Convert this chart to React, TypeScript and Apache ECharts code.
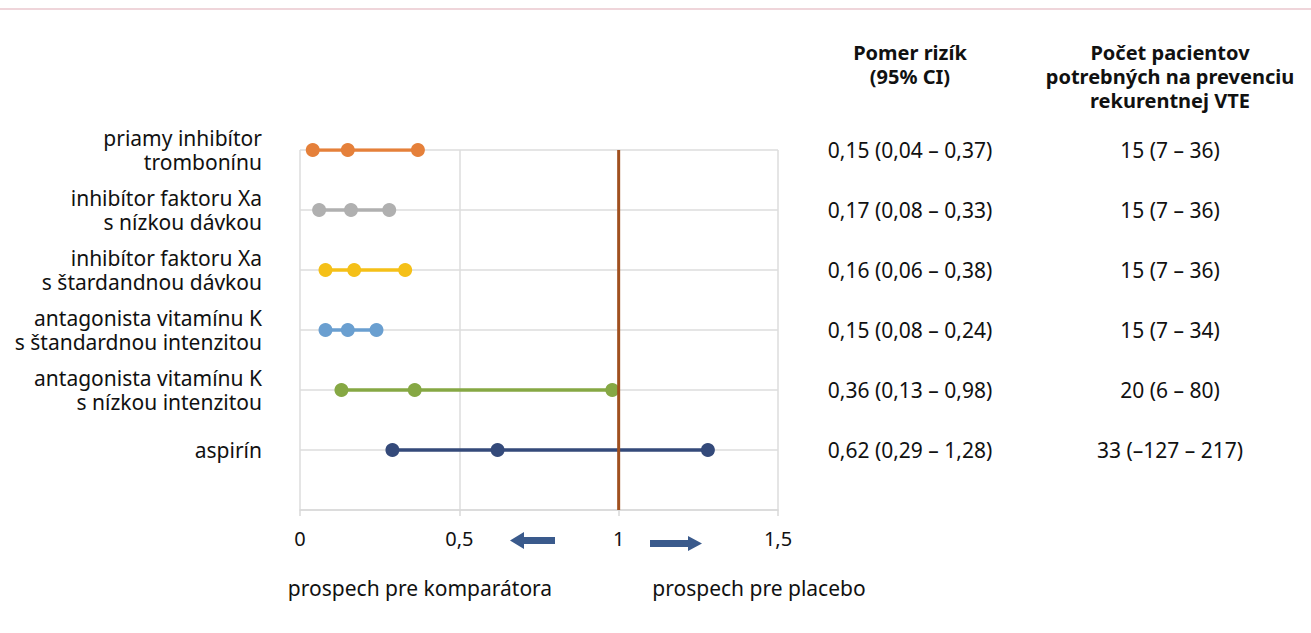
import React, { useEffect, useRef } from "react";
import * as echarts from "echarts";

const rowLabels = [
  "priamy inhibítor\ntrombonínu",
  "inhibítor faktoru Xa\ns nízkou dávkou",
  "inhibítor faktoru Xa\ns štardandnou dávkou",
  "antagonista vitamínu K\ns štandardnou intenzitou",
  "antagonista vitamínu K\ns nízkou intenzitou",
  "aspirín",
];
const lowerCI = [0.04, 0.06, 0.08, 0.08, 0.13, 0.29];
const estimate = [0.15, 0.16, 0.17, 0.15, 0.36, 0.62];
const upperCI = [0.37, 0.28, 0.33, 0.24, 0.98, 1.28];
const rowPositions = [6, 5, 4, 3, 2, 1];
const colors = ["#E5803A", "#B0B0B0", "#F5C018", "#6A9FD0", "#86A844", "#344A7A"];
const riskText = [
  "0,15 (0,04 – 0,37)",
  "0,17 (0,08 – 0,33)",
  "0,16 (0,06 – 0,38)",
  "0,15 (0,08 – 0,24)",
  "0,36 (0,13 – 0,98)",
  "0,62 (0,29 – 1,28)",
];
const nntText = [
  "15 (7 – 36)",
  "15 (7 – 36)",
  "15 (7 – 36)",
  "15 (7 – 34)",
  "20 (6 – 80)",
  "33 (–127 – 217)",
];
const riskHeader = "Pomer rizík\n(95% CI)";
const nntHeader = "Počet pacientov\npotrebných na prevenciu\nrekurentnej VTE";
const leftNote = "prospech pre komparátora";
const rightNote = "prospech pre placebo";
const xTicks = { min: 0, max: 1.5, interval: 0.5 };
const referenceValue = 1;

const FONT = "'Noto Sans', sans-serif";
const FS = 21;

export default function App() {
  const ref = useRef<HTMLDivElement>(null);
  useEffect(() => {
    if (!ref.current) return;
    const chart = echarts.init(ref.current, undefined, { renderer: "svg" });
    const gridLeft = 300;
    const gridRight = 778;
    const gridTop = 150;
    const gridBottom = 510;

    const series: any[] = rowLabels.map((name, i) => ({
      type: "line",
      name,
      data: [
        [lowerCI[i], rowPositions[i]],
        [estimate[i], rowPositions[i]],
        [upperCI[i], rowPositions[i]],
      ],
      symbol: "circle",
      symbolSize: 14,
      itemStyle: { color: colors[i] },
      lineStyle: { color: colors[i], width: 3.5 },
      z: 3,
    }));
    series.push({
      type: "line",
      data: [
        [referenceValue, 0],
        [referenceValue, 6],
      ],
      symbol: "none",
      lineStyle: { color: "#A0501F", width: 3 },
      z: 5,
    });

    const graphics: any[] = [
      { type: "rect", shape: { x: 0, y: 8, width: 1311, height: 2 }, style: { fill: "#EFD5DA" } },
    ];
    const colRisk = 910;
    const colNnt = 1170;
    const headerStyle = {
      font: `bold ${FS - 1}px ${FONT}`,
      fill: "#111",
      align: "center",
      verticalAlign: "top",
      lineHeight: 24,
    };
    graphics.push({ type: "text", x: colRisk, y: 40, style: { ...headerStyle, text: riskHeader } });
    graphics.push({ type: "text", x: colNnt, y: 40, style: { ...headerStyle, text: nntHeader } });
    rowPositions.forEach((p, i) => {
      const y = gridBottom - (p / 6) * (gridBottom - gridTop);
      graphics.push({
        type: "text",
        x: colRisk,
        y,
        style: { text: riskText[i], font: `${FS}px ${FONT}`, fill: "#111", align: "center", verticalAlign: "middle" },
      });
      graphics.push({
        type: "text",
        x: colNnt,
        y,
        style: { text: nntText[i], font: `${FS}px ${FONT}`, fill: "#111", align: "center", verticalAlign: "middle" },
      });
    });
    const arrowColor = "#3A5A8C";
    graphics.push({
      type: "polygon",
      shape: {
        points: [
          [555, 537], [524, 537], [524, 532], [510, 540.5], [524, 549], [524, 544], [555, 544],
        ],
      },
      style: { fill: arrowColor },
    });
    graphics.push({
      type: "polygon",
      shape: {
        points: [
          [650, 540], [688, 540], [688, 536], [702, 543.5], [688, 551], [688, 547], [650, 547],
        ],
      },
      style: { fill: arrowColor },
    });
    graphics.push({
      type: "text",
      x: 420,
      y: 588,
      style: { text: leftNote, font: `${FS}px ${FONT}`, fill: "#111", align: "center", verticalAlign: "middle" },
    });
    graphics.push({
      type: "text",
      x: 759,
      y: 588,
      style: { text: rightNote, font: `${FS}px ${FONT}`, fill: "#111", align: "center", verticalAlign: "middle" },
    });

    chart.setOption({
      animation: false,
      backgroundColor: "#fff",
      grid: { left: gridLeft, right: 1311 - gridRight, top: gridTop, bottom: 633 - gridBottom },
      xAxis: {
        type: "value",
        min: xTicks.min,
        max: xTicks.max,
        interval: xTicks.interval,
        axisLine: { show: true, lineStyle: { color: "#D9D9D9", width: 1.5 } },
        axisTick: { show: true, length: 6, lineStyle: { color: "#D9D9D9", width: 1.5 } },
        splitLine: { show: true, lineStyle: { color: "#DCDCDC", width: 1.5 } },
        axisLabel: {
          color: "#111",
          fontSize: 20,
          fontFamily: FONT,
          margin: 18,
          formatter: (v: number) => String(v).replace(".", ","),
        },
      },
      yAxis: {
        type: "value",
        min: 0,
        max: 6,
        interval: 1,
        axisLine: { show: false },
        axisTick: { show: false },
        splitLine: { show: true, lineStyle: { color: "#DCDCDC", width: 1.5 } },
        axisLabel: {
          color: "#111",
          fontSize: FS,
          fontFamily: FONT,
          lineHeight: 24,
          margin: 38,
          align: "right",
          formatter: (v: number) => {
            const idx = rowPositions.indexOf(v);
            return idx >= 0 ? rowLabels[idx] : "";
          },
        },
      },
      series,
      graphic: graphics,
    });
    return () => chart.dispose();
  }, []);
  return (
    <div
      ref={ref}
      style={{ position: "fixed", left: 0, top: 0, width: 1311, height: 633 }}
    />
  );
}
